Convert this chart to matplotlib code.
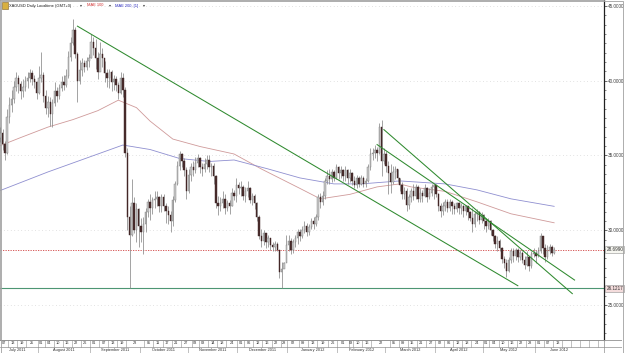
import matplotlib
matplotlib.use("Agg")
import matplotlib.pyplot as plt
import matplotlib.transforms as mtransforms
import numpy as np
import pandas as pd
from matplotlib.patches import Rectangle
from matplotlib.ticker import MultipleLocator, FuncFormatter

# trading days shown on the chart, plus some empty future days on the right
data_start = "2011-07-06"
data_end = "2012-06-13"
axis_end = "2012-07-31"

first_open = 35.6
closes = [
    36.2, 36.5, 35.8, 35.2, 37.6, 38.4, 38.8, 39.6, 40.2, 39.8,
    39.3, 39.6, 40.0, 40.2, 40.5, 40.1, 39.9, 39.2, 40.2, 40.4,
    39.0, 38.2, 38.6, 37.8, 38.5, 39.3, 39.0, 39.5, 39.9, 39.7,
    40.3, 41.6, 42.5, 43.4, 41.8, 40.0, 40.7, 41.2, 40.9, 41.3,
    41.5, 42.6, 42.2, 41.5, 40.6, 41.8, 41.5, 40.5, 40.2, 40.6,
    39.9, 40.1, 39.7, 39.2, 40.2, 39.4, 35.2, 30.9, 29.7, 31.8,
    30.0, 31.4, 30.3, 29.9, 30.4, 31.2, 31.9, 31.5, 32.0, 32.1,
    32.2, 31.6, 32.2, 31.6, 31.3, 31.0, 30.6, 32.0, 33.1, 34.3,
    35.1, 34.6, 34.0, 32.6, 33.7, 34.2, 34.0, 34.5, 34.8, 34.2,
    34.1, 34.4, 34.7, 34.2, 34.3, 33.6, 31.8, 31.6, 31.8, 32.1,
    31.5, 31.8, 31.6, 32.5, 32.3, 33.0, 32.8, 32.9, 32.3, 32.6,
    32.8, 32.0, 32.3, 31.8, 30.9, 29.6, 29.3, 29.8, 29.2, 29.5,
    29.0, 28.9, 29.1, 28.7, 27.2, 27.4, 27.8, 29.0, 29.3, 28.7,
    29.2, 29.5, 29.9, 29.6, 30.0, 30.3, 29.9, 30.2, 30.6, 30.4,
    30.9, 32.2, 31.9, 32.3, 33.3, 33.6, 33.4, 33.9, 33.5, 34.2,
    33.8, 34.0, 33.6, 34.0, 33.5, 33.8, 33.3, 33.0, 33.5, 33.1,
    33.5, 33.1, 33.3, 34.2, 35.1, 35.2, 35.4, 35.2, 36.9, 34.6,
    35.1, 34.3, 33.8, 33.2, 33.9, 34.1, 33.5, 33.0, 32.4, 32.6,
    31.7, 32.2, 32.6, 32.3, 32.9, 32.1, 32.5, 32.3, 32.8, 32.2,
    32.5, 32.9, 33.0, 32.4, 31.6, 31.3, 31.6, 31.9, 31.5, 31.9,
    31.6, 31.4, 31.8, 31.5, 31.6, 31.3, 31.6, 31.2, 30.8, 30.4,
    31.1, 31.2, 30.7, 31.0, 30.6, 30.3, 30.6, 30.0, 29.6, 29.1,
    29.3, 28.8, 28.1, 27.8, 27.3, 28.0, 28.6, 28.3, 28.7, 28.2,
    28.5, 28.0, 27.7, 28.2, 27.6, 28.4, 28.5, 28.3, 28.6, 29.6,
    28.8, 28.2, 28.6, 28.9, 28.5, 28.699,
]
highs = [
    36.6, 36.9, 36.8, 36.0, 38.1, 38.9, 39.4, 40.0, 40.6, 40.4,
    40.0, 40.1, 40.3, 40.6, 40.8, 40.7, 40.4, 40.0, 41.0, 41.9,
    40.6, 39.4, 39.0, 38.9, 38.8, 39.9, 39.6, 39.8, 40.3, 40.4,
    40.8, 42.0, 42.9, 44.1, 43.6, 41.9, 41.4, 41.5, 41.4, 41.6,
    41.8, 43.1, 42.9, 42.8, 41.9, 42.6, 42.2, 41.3, 40.8, 40.8,
    40.7, 40.4, 40.3, 39.9, 40.6, 40.5, 39.6, 35.5, 31.6, 33.4,
    32.2, 31.8, 31.5, 30.8, 30.9, 31.5, 32.1, 32.4, 32.2, 32.6,
    32.6, 32.3, 32.4, 32.4, 31.8, 31.6, 31.3, 32.3, 33.3, 34.6,
    35.3, 35.2, 34.8, 34.2, 34.1, 34.5, 34.6, 34.9, 35.1, 34.9,
    34.5, 34.8, 35.0, 35.0, 34.5, 34.5, 33.7, 32.3, 32.2, 32.6,
    32.4, 32.0, 32.0, 32.8, 32.7, 33.5, 33.2, 33.3, 33.0, 32.9,
    33.3, 32.9, 32.5, 32.4, 31.9, 31.0, 30.1, 30.0, 29.7, 29.7,
    29.3, 29.2, 29.3, 29.2, 28.6, 27.9, 27.9, 29.7, 29.7, 29.5,
    29.4, 29.7, 30.1, 30.1, 30.3, 30.6, 30.5, 30.4, 30.8, 30.9,
    31.1, 32.4, 32.5, 32.6, 33.5, 34.0, 34.1, 34.1, 34.0, 34.4,
    34.3, 34.3, 34.1, 34.3, 34.1, 34.1, 33.9, 33.6, 33.7, 33.6,
    33.7, 33.6, 33.5, 34.4, 35.5, 35.5, 35.7, 35.6, 37.2, 37.4,
    35.5, 35.3, 34.6, 34.4, 34.3, 34.3, 34.1, 33.5, 33.2, 32.9,
    32.8, 32.4, 32.8, 33.1, 33.1, 33.0, 32.8, 32.7, 33.1, 32.9,
    32.8, 33.1, 33.1, 33.0, 32.5, 31.8, 31.9, 32.1, 32.1, 32.1,
    32.0, 31.8, 31.9, 31.9, 31.8, 31.7, 31.7, 31.6, 31.3, 31.5,
    31.3, 31.4, 31.3, 31.2, 31.1, 30.8, 30.8, 30.7, 30.1, 29.7,
    29.6, 29.4, 28.9, 28.3, 28.1, 28.2, 28.8, 28.8, 28.8, 28.8,
    28.7, 28.6, 28.3, 28.6, 28.3, 28.6, 28.8, 28.7, 28.9, 29.8,
    29.6, 29.1, 29.0, 29.1, 29.0, 28.9,
]
lows = [
    35.5, 35.9, 35.4, 34.7, 35.1, 37.2, 37.9, 38.5, 39.3, 39.2,
    38.8, 38.9, 39.3, 39.5, 39.9, 39.7, 39.5, 38.8, 39.1, 39.9,
    38.6, 37.8, 37.6, 37.0, 36.9, 38.3, 38.6, 38.8, 39.3, 39.4,
    39.6, 40.2, 41.3, 42.4, 41.5, 38.6, 39.8, 40.3, 40.6, 40.7,
    40.9, 41.5, 41.7, 40.8, 40.1, 41.1, 40.9, 39.9, 39.6, 39.5,
    39.3, 39.4, 39.3, 38.8, 39.1, 38.9, 34.9, 30.0, 26.12, 29.6,
    29.8, 29.2, 28.9, 29.2, 28.4, 29.9, 30.9, 30.7, 31.1, 31.5,
    31.6, 31.2, 31.2, 31.3, 30.5, 30.4, 29.9, 30.3, 31.9, 33.0,
    34.0, 34.2, 33.6, 32.1, 32.5, 33.3, 33.6, 33.8, 34.2, 33.8,
    33.6, 33.9, 34.1, 33.9, 33.6, 33.1, 31.5, 31.0, 31.3, 31.5,
    31.1, 31.3, 31.1, 31.6, 32.0, 31.9, 32.4, 32.3, 32.0, 31.9,
    32.2, 31.8, 31.7, 31.4, 30.6, 29.4, 28.9, 29.0, 28.8, 28.9,
    28.7, 28.6, 28.6, 28.6, 26.8, 26.12, 27.5, 28.1, 28.6, 28.4,
    28.5, 28.9, 29.1, 29.3, 29.5, 29.8, 29.6, 29.7, 30.1, 30.1,
    30.3, 30.7, 31.5, 31.7, 32.1, 33.1, 33.1, 33.2, 33.3, 33.4,
    33.4, 33.5, 33.3, 33.3, 33.1, 33.2, 33.0, 32.8, 32.8, 32.9,
    33.0, 32.9, 32.9, 33.2, 34.0, 34.7, 34.8, 34.6, 35.1, 33.6,
    34.4, 33.9, 32.4, 32.5, 33.1, 33.4, 33.2, 32.6, 32.1, 32.1,
    31.3, 31.4, 31.9, 32.0, 32.1, 31.9, 31.9, 31.9, 32.2, 31.9,
    32.1, 32.3, 32.1, 32.2, 31.3, 30.9, 31.0, 31.3, 31.2, 31.3,
    31.1, 31.1, 31.2, 31.1, 31.1, 30.9, 31.0, 30.7, 30.6, 29.9,
    30.2, 30.6, 30.4, 30.5, 30.1, 29.9, 30.1, 29.7, 29.3, 28.8,
    28.6, 28.6, 27.8, 27.5, 26.85, 27.2, 27.8, 27.9, 28.0, 27.9,
    28.0, 27.8, 27.4, 27.6, 27.3, 27.5, 28.2, 27.8, 28.2, 28.5,
    28.4, 27.9, 28.1, 28.4, 28.3, 28.4,
]

# moving averages (date, value)
ma100_dates = ["2011-07-06", "2011-07-20", "2011-08-05", "2011-08-22", "2011-09-06",
               "2011-09-19", "2011-09-29", "2011-10-07", "2011-10-21", "2011-11-08",
               "2011-11-29", "2011-12-15", "2012-01-09", "2012-01-20", "2012-02-08",
               "2012-02-24", "2012-03-09", "2012-03-16", "2012-04-06", "2012-04-26",
               "2012-05-17", "2012-06-13"]
ma100_vals = [35.6, 36.2, 36.9, 37.4, 38.0,
              38.7, 38.2, 37.3, 36.1, 35.6,
              35.1, 34.1, 32.8, 32.1, 32.4,
              32.9, 33.1, 32.9, 32.6, 31.9,
              31.1, 30.5]
ma200_dates = ["2011-07-06", "2011-08-05", "2011-09-06", "2011-09-21", "2011-10-07",
               "2011-10-26", "2011-11-14", "2011-11-29", "2011-12-20", "2012-01-09",
               "2012-01-30", "2012-02-15", "2012-03-09", "2012-04-06", "2012-04-26",
               "2012-05-17", "2012-06-13"]
ma200_vals = [32.6, 33.9, 35.1, 35.7, 35.4,
              34.8, 34.6, 34.7, 34.1, 33.5,
              33.1, 33.1, 33.3, 33.1, 32.7,
              32.1, 31.6]

# drawn trend lines: (start date, start price, end date, end price)
trend_lines = [
    ("2011-08-24", 43.65, "2012-05-22", 26.29),
    ("2012-02-29", 36.73, "2012-06-25", 25.76),
    ("2012-02-24", 35.73, "2012-06-26", 26.67),
]
last_price = 28.6990
support_price = 26.1217

day_labels = [
    "2011-07-07", "2011-07-13", "2011-07-19", "2011-07-25",
    "2011-08-01", "2011-08-04", "2011-08-10", "2011-08-16", "2011-08-22", "2011-08-26",
    "2011-09-01", "2011-09-07", "2011-09-13", "2011-09-19", "2011-09-23",
    "2011-10-05", "2011-10-11", "2011-10-17", "2011-10-21", "2011-10-27",
    "2011-11-03", "2011-11-08", "2011-11-14", "2011-11-18", "2011-11-24",
    "2011-12-01", "2011-12-06", "2011-12-12", "2011-12-16", "2011-12-22", "2011-12-28",
    "2012-01-02", "2012-01-09", "2012-01-13", "2012-01-19", "2012-01-26",
    "2012-02-01", "2012-02-08", "2012-02-10", "2012-02-16", "2012-02-22",
    "2012-03-05", "2012-03-09", "2012-03-15", "2012-03-21", "2012-03-27",
    "2012-04-02", "2012-04-06", "2012-04-12", "2012-04-18", "2012-04-24",
    "2012-05-01", "2012-05-04", "2012-05-10", "2012-05-16", "2012-05-22", "2012-05-28",
    "2012-06-01", "2012-06-07", "2012-06-13",
]
empty_label_boxes = ["2012-06-19", "2012-06-25", "2012-06-29", "2012-07-05", "2012-07-11"]
months = ["2011-07", "2011-08", "2011-09", "2011-10", "2011-11", "2011-12",
          "2012-01", "2012-02", "2012-03", "2012-04", "2012-05", "2012-06"]
month_names = ["July 2011", "August 2011", "September 2011", "October 2011",
               "November 2011", "December 2011", "January 2012", "February 2012",
               "March 2012", "April 2012", "May 2012", "June 2012"]

axis_days = pd.bdate_range(data_start, axis_end)


def pos(day):
    return axis_days.get_indexer([pd.Timestamp(day)], method="bfill")[0]


W, H = 625, 353
fig = plt.figure(figsize=(W / 100, H / 100), dpi=100)
plt.rcParams["font.family"] = ["Liberation Sans", "DejaVu Sans"]

PX = 2.27           # pixels per bar
x_left = 0.88
plot_right = 604
ax = fig.add_axes([0, 1 - 340 / H, plot_right / W, 340 / H])
ax.set_xlim(x_left, x_left + plot_right / PX)
ax.set_ylim(22.66, 45.4)

x = np.arange(len(closes))
c = np.array(closes)
o = np.array([first_open] + closes[:-1])
up = c >= o
ax.vlines(x, lows, highs, color="#8a8a8a", lw=0.55, zorder=3)
bottoms = np.minimum(o, c)
heights = np.maximum(np.abs(c - o), 0.04)
ax.bar(x, heights, bottom=bottoms, width=0.62,
       color=np.where(up, "#c9c9c9", "#4a2d2d"),
       edgecolor=np.where(up, "#7a7a7a", "#3a2020"), linewidth=0.3, zorder=4)

ax.plot([pos(d) for d in ma100_dates], ma100_vals, color="#cf9a9a", lw=0.6, zorder=2)
ax.plot([pos(d) for d in ma200_dates], ma200_vals, color="#8f8fd0", lw=0.6, zorder=2)

for d0, p0, d1, p1 in trend_lines:
    ax.plot([pos(d0), pos(d1)], [p0, p1], color="#2f8a2f", lw=0.75, zorder=5)

ax.axhline(last_price, color="#d04040", lw=0.6, ls=(0, (1.5, 1.5)), zorder=1)
ax.axhline(support_price, color="#4d9673", lw=0.8, zorder=1)

# price axis on the right
ax.yaxis.tick_right()
ax.yaxis.set_major_locator(MultipleLocator(5))
ax.yaxis.set_minor_locator(MultipleLocator(0.625))
ax.yaxis.set_major_formatter(FuncFormatter(lambda v, _: f"{v:.4f}"))
ax.tick_params(axis="y", which="major", length=2, width=0.5, pad=1,
               labelsize=3.3, labelcolor="#404040", color="#303030")
ax.tick_params(axis="y", which="minor", length=1.5, width=0.4, color="#303030")
ax.tick_params(axis="x", bottom=False, labelbottom=False)
ax.grid(axis="y", which="major", color="#c8c8c8", lw=0.5, ls=(0, (1, 4)))
for side in ["left", "top", "bottom"]:
    ax.spines[side].set_color("#a0a0a0")
    ax.spines[side].set_linewidth(0.6)
ax.spines["right"].set_color("#202020")
ax.spines["right"].set_linewidth(0.9)

tr = mtransforms.blended_transform_factory(ax.transAxes, ax.transData)
ax.text(1.004, last_price, f"{last_price:.4f}", transform=tr, fontsize=3.3,
        va="center", ha="left", color="#303030",
        bbox=dict(boxstyle="square,pad=0.25", fc="#f6f6f0", ec="#909090", lw=0.4))
ax.text(1.004, support_price, f"{support_price:.4f}", transform=tr, fontsize=3.3,
        va="center", ha="left", color="#303030",
        bbox=dict(boxstyle="square,pad=0.25", fc="#f4dcdc", ec="#909090", lw=0.4))

# title strip
fig.patches.append(Rectangle((2 / W, 1 - 9 / H), 6 / W, 7 / H, transform=fig.transFigure,
                             fc="#d8b040", ec="#806020", lw=0.4))
ty = 1 - 5.5 / H
fig.text(9 / W, ty, "XAGUSD Daily Localtime (GMT+0)", fontsize=2.9, color="#202020", va="center")
fig.text(80 / W, ty, "\u25be", fontsize=2.9, color="#404040", va="center")
fig.text(87 / W, ty, "MAE 100", fontsize=2.9, color="#d03030", va="center")
fig.text(109 / W, ty, "\u25be", fontsize=2.9, color="#404040", va="center")
fig.text(115 / W, ty, "MAE 200, [1]", fontsize=2.9, color="#3030c0", va="center")
fig.text(143 / W, ty, "\u25be", fontsize=2.9, color="#404040", va="center")

# time axis rows
tax = fig.add_axes([0, 0, 622 / W, 13 / H])
tax.set_xlim(x_left, x_left + 622 / PX)
tax.set_ylim(0, 1)
tax.axis("off")
axis_x_end = x_left + plot_right / PX
tax.axhline(1.0, color="#909090", lw=0.6)
tax.axhline(0.48, color="#909090", lw=0.5)
tax.axvline(axis_x_end, color="#909090", lw=0.5)

all_boxes = day_labels + empty_label_boxes
box_pos = [pos(d) - 0.5 for d in all_boxes]
for i, d in enumerate(all_boxes):
    left = box_pos[i]
    right = box_pos[i + 1] if i + 1 < len(box_pos) else axis_x_end
    tax.plot([left, left], [0.48, 1.0], color="#909090", lw=0.4)
    if d in day_labels:
        tax.text((left + right) / 2, 0.74, pd.Timestamp(d).strftime("%d"), fontsize=2.8,
                 ha="center", va="center", color="#303030")

month_pos = [pos(m + "-01") - 0.5 for m in months]
for i, name in enumerate(month_names):
    left = month_pos[i]
    right = month_pos[i + 1] if i + 1 < len(month_pos) else left + 21
    tax.plot([left, left], [0, 0.48], color="#909090", lw=0.4)
    tax.text((left + right) / 2, 0.22, name, fontsize=2.8, ha="center", va="center",
             color="#303030")

# outer border
fig.patches.append(Rectangle((0.5 / W, 0.5 / H), 622.5 / W, 352 / H, transform=fig.transFigure,
                             fill=False, ec="#a0a0a0", lw=0.6))

fig.savefig("out.png", dpi=100)
